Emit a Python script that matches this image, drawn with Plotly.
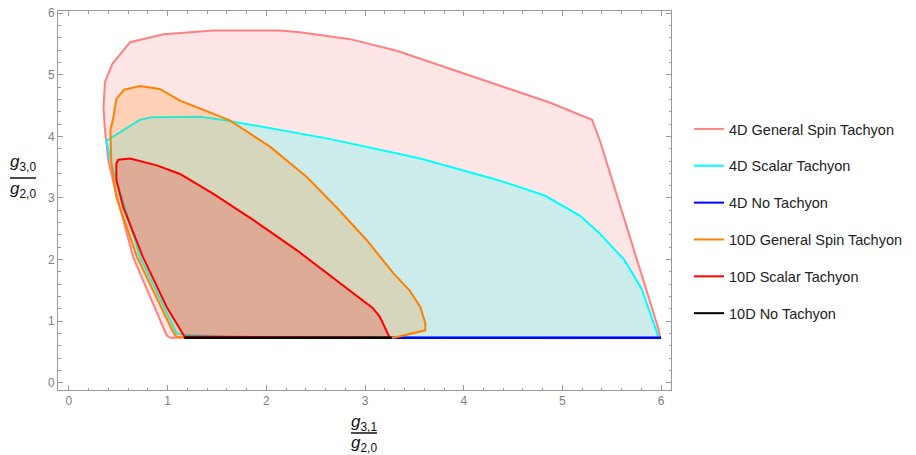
import plotly.graph_objects as go

# ---- data ----
names = ["4D General Spin Tachyon", "4D Scalar Tachyon", "4D No Tachyon",
         "10D General Spin Tachyon", "10D Scalar Tachyon", "10D No Tachyon"]
line_colors = ["rgb(255,128,128)", "rgb(0,255,255)", "rgb(0,0,255)",
               "rgb(255,128,0)", "rgb(255,0,0)", "rgb(0,0,0)"]
fill_colors = ["rgba(255,128,128,0.2)", "rgba(0,255,255,0.2)", None,
               "rgba(255,128,0,0.2)", "rgba(255,0,0,0.2)", None]

gs4_x = [1.02, 0.99, 0.65, 0.47, 0.40, 0.375, 0.365, 0.35, 0.365, 0.44, 0.55, 0.62, 0.96, 1.46, 2.14,
         2.34, 2.85, 3.32, 3.86, 4.37, 4.87, 5.30, 5.38, 5.97, 5.99, 1.02]
gs4_y = [0.73, 0.77, 2.04, 3.12, 3.6, 4.0, 4.1, 4.47, 4.88, 5.18, 5.39, 5.53, 5.66, 5.72, 5.72,
         5.69, 5.58, 5.39, 5.10, 4.82, 4.55, 4.27, 3.93, 0.89, 0.73, 0.73]

sc4_x = [1.19, 1.09, 0.72, 0.43, 0.38, 0.55, 0.72, 0.84, 1.33, 1.6, 2.64, 3.56, 4.37, 4.82, 5.18,
         5.38, 5.63, 5.80, 5.88, 5.95, 5.97, 1.6, 1.19]
sc4_y = [0.775, 0.80, 2.04, 3.56, 3.93, 4.1, 4.27, 4.31, 4.32, 4.26, 3.96, 3.64, 3.28, 3.04, 2.71,
         2.42, 1.99, 1.53, 1.18, 0.85, 0.73, 0.74, 0.775]

nt4_x = [1.17, 6.0]
nt4_y = [0.73, 0.73]

gs10_x = [3.29, 1.09, 1.05, 0.69, 0.48, 0.43, 0.42, 0.45, 0.48, 0.56, 0.72, 0.92, 1.125, 1.63, 2.04,
          2.41, 2.71, 3.02, 3.29, 3.45, 3.56, 3.61, 3.61, 3.29]
gs10_y = [0.73, 0.74, 0.84, 2.04, 3.01, 3.56, 4.1, 4.31, 4.61, 4.76, 4.82, 4.77, 4.58, 4.26, 3.83,
          3.34, 2.85, 2.31, 1.77, 1.50, 1.23, 0.97, 0.85, 0.73]

sc10_x = [3.25, 1.17, 1.11, 0.99, 0.75, 0.55, 0.48, 0.48, 0.5, 0.62, 0.89, 1.125, 1.46, 1.87, 2.31,
          2.71, 3.08, 3.15, 3.25]
sc10_y = [0.73, 0.75, 0.91, 1.23, 2.04, 2.85, 3.29, 3.56, 3.62, 3.64, 3.53, 3.39, 3.07, 2.64, 2.15,
          1.66, 1.21, 1.07, 0.73]

nt10_x = [1.17, 3.27]
nt10_y = [0.73, 0.73]

xs = [gs4_x, sc4_x, nt4_x, gs10_x, sc10_x, nt10_x]
ys = [gs4_y, sc4_y, nt4_y, gs10_y, sc10_y, nt10_y]

x_ticks = [0, 1, 2, 3, 4, 5, 6]
y_ticks = [0, 1, 2, 3, 4, 5, 6]

fig = go.Figure()
for i, n in enumerate(names):
    if fill_colors[i]:
        fig.add_trace(go.Scatter(x=xs[i], y=ys[i], mode="lines", fill="toself",
                                 fillcolor=fill_colors[i],
                                 line=dict(color=line_colors[i], width=2),
                                 showlegend=False, hoverinfo="skip"))
    else:
        fig.add_trace(go.Scatter(x=xs[i], y=ys[i], mode="lines",
                                 line=dict(color=line_colors[i], width=2.5),
                                 showlegend=False, hoverinfo="skip"))
for i, n in enumerate(names):
    fig.add_trace(go.Scatter(x=[None], y=[None], mode="lines", name=n,
                             legendgroup=n, line=dict(color=line_colors[i], width=2),
                             showlegend=True))

axis_common = dict(showgrid=False, zeroline=False, showline=True, linecolor="#9a9a9a",
                   linewidth=1, mirror="ticks", ticks="inside", ticklen=5,
                   tickcolor="#9a9a9a", tickwidth=1, automargin=False,
                   ticklabeloverflow="allow",
                   tickfont=dict(family="Liberation Sans, Arial", size=12, color="#808080"),
                   minor=dict(dtick=0.2, ticks="inside", ticklen=2.5, tickcolor="#9a9a9a",
                              tickwidth=1, showgrid=False))

fig.update_xaxes(range=[-0.111, 6.10], tickvals=x_ticks, ticktext=[str(v) for v in x_ticks],
                 **axis_common)
fig.update_yaxes(range=[-0.119, 6.037], tickvals=y_ticks, ticktext=[str(v) for v in y_ticks],
                 **axis_common)

# page body has an 8px margin: figure is drawn at (8, 8) in the window
OFF = 8
W, H = 916 - OFF, 455 - OFF
L, T = 58 - OFF, 11 - OFF
R = W - (671 - OFF)
B = H - (390 - OFF)
pw, ph = W - L - R, H - T - B

def px(xs_screen):
    return (xs_screen - OFF - L) / pw

def py(ys_screen):
    return (H - B - (ys_screen - OFF)) / ph

title_font = dict(family="Liberation Sans, Arial", size=17, color="#111")
annots = [
    dict(x=px(364), y=py(423), text="<i>g</i><sub>3,1</sub>"),
    dict(x=px(364), y=py(444), text="<i>g</i><sub>2,0</sub>"),
    dict(x=px(23), y=py(163), text="<i>g</i><sub>3,0</sub>"),
    dict(x=px(23), y=py(190), text="<i>g</i><sub>2,0</sub>"),
]
for a in annots:
    fig.add_annotation(xref="paper", yref="paper", showarrow=False, font=title_font,
                       xanchor="center", yanchor="middle", **a)

fig.add_shape(type="line", xref="paper", yref="paper", x0=px(351), x1=px(377),
              y0=py(433), y1=py(433), line=dict(color="#111", width=1.5))
fig.add_shape(type="line", xref="paper", yref="paper", x0=px(10), x1=px(36),
              y0=py(178), y1=py(178), line=dict(color="#111", width=1.5))

fig.update_layout(
    width=W, height=H,
    margin=dict(l=L, r=R, t=T, b=B, autoexpand=False),
    plot_bgcolor="white", paper_bgcolor="white",
    legend=dict(x=px(689), y=py(113), xanchor="left", yanchor="top",
                font=dict(family="Liberation Sans, Arial", size=14.5, color="#222"),
                tracegroupgap=15, bgcolor="rgba(0,0,0,0)"),
)

fig.write_html("out.html")
